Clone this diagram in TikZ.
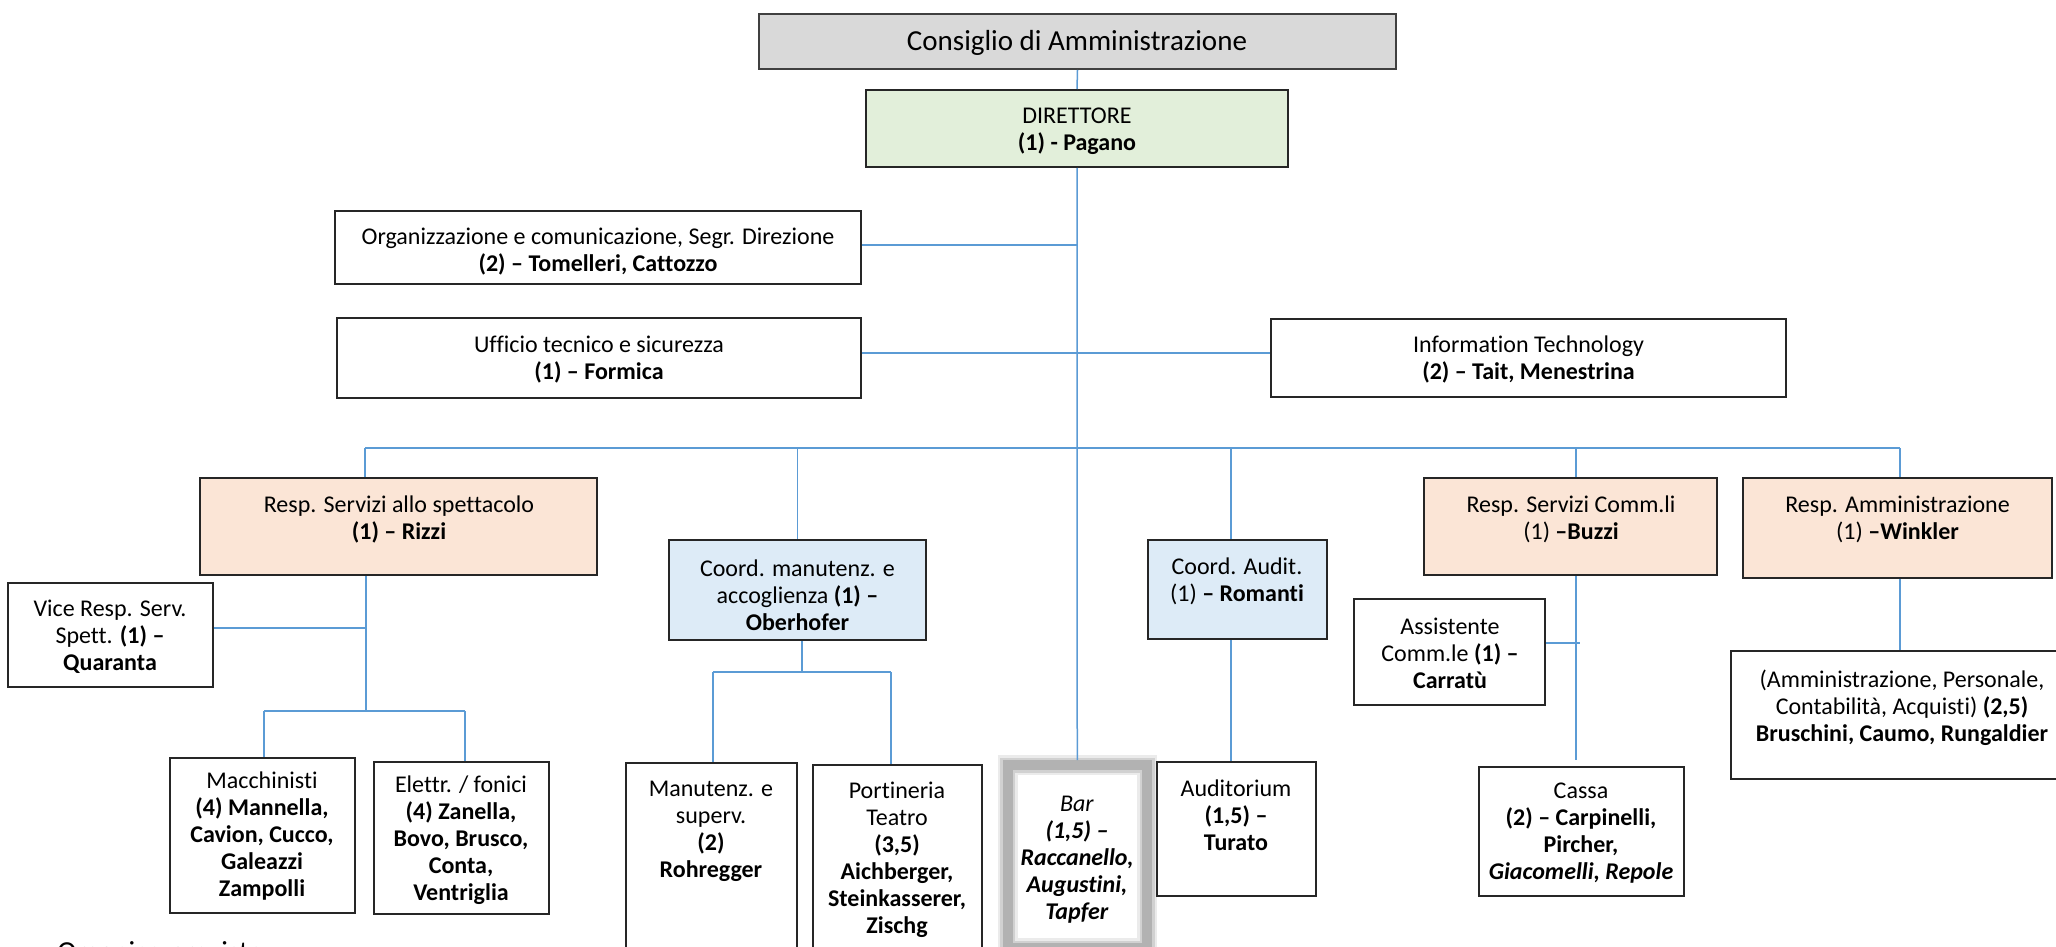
\documentclass[tikz,border=0pt]{standalone}
\usepackage{fontspec}
\setmainfont{Carlito}[Ligatures=CommonOff]
\definecolor{linkblue}{HTML}{5B9BD5}
\definecolor{consgray}{HTML}{D9D9D9}
\definecolor{dirgreen}{HTML}{E2EFDA}
\definecolor{peach}{HTML}{FBE5D6}
\definecolor{lblue}{HTML}{DDEBF7}
\newcommand\fnorm{\fontsize{12}{13.5}\selectfont}
\newcommand\fbig{\fontsize{14.5}{17}\selectfont}
\begin{document}
\begin{tikzpicture}[x=0.5pt,y=-0.5pt,
  box/.style={draw=black!85, line width=1pt, rectangle, inner sep=0pt},
  txt/.style={align=center, inner sep=0pt, font=\fnorm},
  link/.style={draw=linkblue, line width=0.75pt},
  busline/.style={draw=linkblue, line width=1.1pt},
  barframe/.style={rectangle, inner sep=0pt, draw=gray!60, line width=5pt,
     preaction={draw=gray!16, line width=10pt},
     preaction={draw=gray!36, line width=7.5pt}}
]
\path[use as bounding box, fill=white] (0,0) rectangle (2056,947);
\clip (0,0) rectangle (2056,947);

% boxes
\node[box, draw=black!75, fill=consgray, minimum width=318.5pt, minimum height=27.5pt] (cons) at (1077.5,41.5) {};
\node[box, fill=dirgreen, minimum width=211pt, minimum height=38.5pt] (dir) at (1077,128.5) {};
\node[box, minimum width=263pt, minimum height=36.5pt] (org) at (598,247.5) {};
\node[box, minimum width=262pt, minimum height=40pt] (uff) at (599,358) {};
\node[box, minimum width=257.5pt, minimum height=39pt] (it) at (1528.5,358) {};
\node[box, fill=peach, minimum width=198.5pt, minimum height=48.5pt] (rss) at (398.5,526.5) {};
\node[box, minimum width=102.5pt, minimum height=52pt] (vice) at (110.5,635) {};
\node[box, minimum width=92.5pt, minimum height=77.5pt] (mac) at (262.5,835.5) {};
\node[box, minimum width=87.5pt, minimum height=76pt] (ele) at (461.5,838) {};
\node[box, fill=lblue, minimum width=128.5pt, minimum height=50pt] (cmt) at (797.5,590) {};
\node[box, minimum width=85.5pt, minimum height=101pt] (man) at (711.5,864) {};
\node[box, minimum width=84.5pt, minimum height=100pt] (por) at (897.5,865) {};
\node[barframe, minimum width=69.75pt, minimum height=91.5pt] (bar) at (1077.25,856.5) {};
\node[box, fill=lblue, minimum width=89.5pt, minimum height=49.5pt] (cau) at (1237.5,589.5) {};
\node[box, minimum width=79.5pt, minimum height=67pt] (aud) at (1236.5,829) {};
\node[box, fill=peach, minimum width=146.5pt, minimum height=48.5pt] (rsc) at (1570.5,526.5) {};
\node[box, minimum width=95.5pt, minimum height=53pt] (asst) at (1449.5,652) {};
\node[box, minimum width=102.5pt, minimum height=64.5pt] (cassa) at (1581.5,831.5) {};
\node[box, fill=peach, minimum width=154.5pt, minimum height=50pt] (ram) at (1897.5,528) {};
\node[box, minimum width=172pt, minimum height=64pt] (amm) at (1903,715) {};

% texts
\node[txt, font=\fbig] (cons-t) at (1077,43) {Consiglio di Amministrazione};
\node[txt] (dir-t) at (1077,131) {DIRETTORE\\\textbf{(1) - Pagano}};
\node[txt] (org-t) at (598,252) {Organizzazione e comunicazione, Segr. Direzione\\\textbf{(2) – Tomelleri, Cattozzo}};
\node[txt] (uff-t) at (599,360) {Ufficio tecnico e sicurezza\\\textbf{(1) – Formica}};
\node[txt] (it-t) at (1528.5,359.5) {Information Technology\\\textbf{(2) – Tait, Menestrina}};
\node[txt] (rss-t) at (399,519) {Resp. Servizi allo spettacolo\\\textbf{(1) – Rizzi}};
\node[txt] (vice-t) at (110,637) {Vice Resp. Serv.\\Spett. \textbf{(1) –}\\\textbf{Quaranta}};
\node[txt] (mac-t) at (262,836) {Macchinisti\\\textbf{(4) Mannella,}\\\textbf{Cavion, Cucco,}\\\textbf{Galeazzi}\\\textbf{Zampolli}};
\node[txt] (ele-t) at (461,840.5) {Elettr. / fonici\\\textbf{(4) Zanella,}\\\textbf{Bovo, Brusco,}\\\textbf{Conta,}\\\textbf{Ventriglia}};
\node[txt] (cmt-t) at (797.5,595) {Coord. manutenz. e\\accoglienza \textbf{(1) –}\\\textbf{Oberhofer}};
\node[txt] (man-t) at (711,831.5) {Manutenz. e\\superv.\\\textbf{(2)}\\\textbf{Rohregger}};
\node[txt] (por-t) at (897,859.5) {Portineria\\Teatro\\\textbf{(3,5)}\\\textbf{Aichberger,}\\\textbf{Steinkasserer,}\\\textbf{Zischg}};
\node[txt] (bar-t) at (1077,860) {\textit{Bar}\\\textbf{\textit{(1,5) –}}\\\textbf{\textit{Raccanello,}}\\\textbf{\textit{Augustini,}}\\\textbf{\textit{Tapfer}}};
\node[txt] (cau-t) at (1237,581.5) {Coord. Audit.\\(1) \textbf{– Romanti}};
\node[txt] (aud-t) at (1236,815.5) {Auditorium\\\textbf{(1,5) –}\\\textbf{Turato}};
\node[txt] (rsc-t) at (1571,519.5) {Resp. Servizi Comm.li\\(1) \textbf{–Buzzi}};
\node[txt] (asst-t) at (1450,653.5) {Assistente\\Comm.le \textbf{(1) –}\\\textbf{Carratù}};
\node[txt] (cassa-t) at (1581,833) {Cassa\\\textbf{(2) – Carpinelli,}\\\textbf{Pircher,}\\\textbf{\textit{Giacomelli, Repole}}};
\node[txt] (ram-t) at (1897.5,519.5) {Resp. Amministrazione\\(1) \textbf{–Winkler}};
\node[txt] (amm-t) at (1902,707.5) {(Amministrazione, Personale,\\Contabilità, Acquisti) \textbf{(2,5)}\\\textbf{Bruschini, Caumo, Rungaldier}};
\node[anchor=base west, inner sep=0pt, font=\fbig] (organico) at (57,961) {Organico previsto};

% connectors
\coordinate (busL) at (365,448);
\coordinate (busR) at (1900,448);
\coordinate (rssJ) at (366,711);
\coordinate (macJ) at (264,711);
\coordinate (eleJ) at (465,711);
\coordinate (cmtJ) at (802,672);
\coordinate (manJ) at (713,672);
\coordinate (porJ) at (891,672);
\coordinate (cauJ) at (1231,448);
\coordinate (rscJ) at (1576,448);

\draw[link] (cons.south) -- (dir.north);
\draw[link] (dir.south) -- (bar.north);
\draw[link] ([yshift=1.25pt]org.east) -- ([yshift=1.25pt]org.east -| dir.south);
\draw[link] ([yshift=2.5pt]uff.east) -- ([yshift=2.5pt]uff.east -| it.west);
\draw[busline] (busL) -- (busR);
\draw[link] (busL) -- (busL |- rss.north);
\draw[link] (rssJ |- rss.south) -- (rssJ);
\draw[link] ([yshift=3.5pt]vice.east) -- ([yshift=3.5pt]vice.east -| rssJ);
\draw[link] (macJ) -- (eleJ);
\draw[link] (macJ) -- (macJ |- mac.north);
\draw[link] (eleJ) -- (eleJ |- ele.north);
\draw[link] (cmt.north |- busL) -- (cmt.north);
\draw[link] (cmtJ |- cmt.south) -- (cmtJ);
\draw[link] (manJ) -- (porJ);
\draw[link] (manJ) -- (manJ |- man.north);
\draw[link] (porJ) -- (porJ |- por.north);
\draw[link] (cauJ) -- (cauJ |- cau.north);
\draw[link] (cauJ |- cau.south) -- (cauJ |- aud.north);
\draw[link] (rscJ) -- (rscJ |- rsc.north);
\draw[link] (rscJ |- rsc.south) -- ([yshift=3pt]rscJ |- cassa.north);
\draw[link] ([yshift=4.5pt]asst.east) -- ++(34,0);
\draw[link] (busR) -- (busR |- ram.north);
\draw[link] (busR |- ram.south) -- (busR |- amm.north);
\end{tikzpicture}
\end{document}
